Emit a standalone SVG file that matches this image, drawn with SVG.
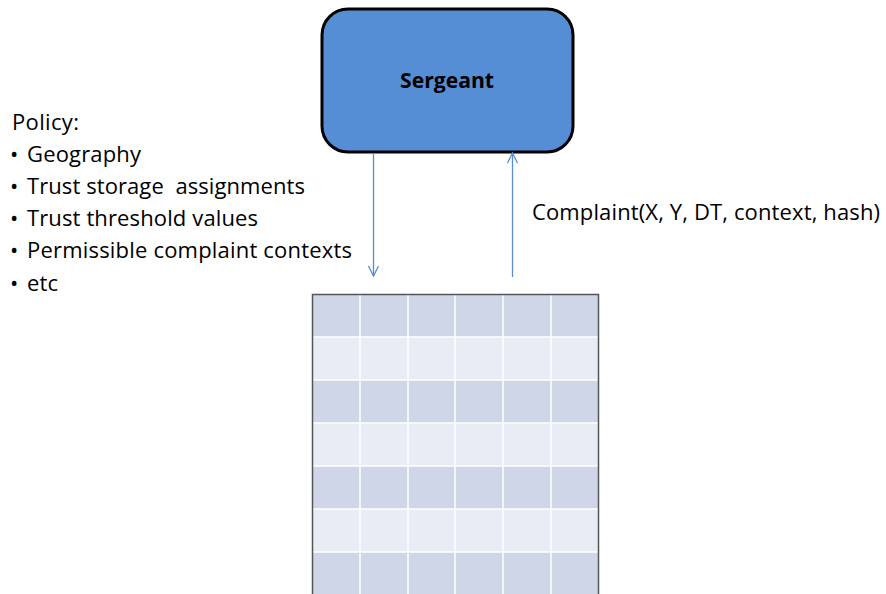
<svg xmlns="http://www.w3.org/2000/svg" width="886" height="594" viewBox="0 0 886 594">
  <style>
    .txt { font-family: "Open Sans", Lato, "Liberation Sans", sans-serif; font-size: 22px; fill: #000; }
    .bullet { font-family: "Open Sans", Lato, "Liberation Sans", sans-serif; font-size: 22px; fill: #000; }
    .title { font-family: "Open Sans", Lato, "Liberation Sans", sans-serif; font-size: 22px; font-weight: bold; fill: #000; }
    .conn { stroke: #5B8DD0; stroke-width: 1.3; fill: none; }
    .dark { fill: #CFD6E7; }
    .light { fill: #E8ECF4; }
    .gridline { stroke: #FFFFFF; stroke-width: 1.5; }
  </style>
  <defs>
    <marker id="arrow" viewBox="0 0 12 12" refX="11" refY="6" markerWidth="12" markerHeight="12" markerUnits="userSpaceOnUse" orient="auto">
      <path d="M1,1 L11,6 L1,11" fill="none" stroke="#5B8DD0" stroke-width="1.3"/>
    </marker>
  </defs>
  <rect width="886" height="594" fill="#FFFFFF"/>

  <g id="sergeant">
    <rect x="322" y="9" width="251" height="143" rx="26" ry="26" fill="#558ED5" stroke="#000" stroke-width="3"/>
    <text class="title" x="400" y="88" textLength="94" lengthAdjust="spacingAndGlyphs">Sergeant</text>
  </g>

  <g id="policy">
    <text class="txt" x="12" y="130" textLength="67">Policy:</text>
    <text class="bullet" x="10" y="162">•</text>
    <text class="txt" x="27" y="162" textLength="114">Geography</text>
    <text class="bullet" x="10" y="194">•</text>
    <text class="txt" x="27" y="194" textLength="278" xml:space="preserve">Trust storage  assignments</text>
    <text class="bullet" x="10" y="226">•</text>
    <text class="txt" x="27" y="226" textLength="231">Trust threshold values</text>
    <text class="bullet" x="10" y="258">•</text>
    <text class="txt" x="27" y="258" textLength="325">Permissible complaint contexts</text>
    <text class="bullet" x="10" y="291">•</text>
    <text class="txt" x="27" y="291" textLength="31">etc</text>
  </g>

  <g id="complaint-label">
    <text class="txt" x="532" y="220" textLength="348">Complaint(X, Y, DT, context, hash)</text>
  </g>

  <g id="store">
    <rect class="dark" x="312" y="294" width="287" height="43"/>
    <rect class="light" x="312" y="337" width="287" height="43"/>
    <rect class="dark" x="312" y="380" width="287" height="43"/>
    <rect class="light" x="312" y="423" width="287" height="43"/>
    <rect class="dark" x="312" y="466" width="287" height="43"/>
    <rect class="light" x="312" y="509" width="287" height="43"/>
    <rect class="dark" x="312" y="552" width="287" height="42"/>
    <g class="gridline">
      <line x1="360" y1="294" x2="360" y2="594"/>
      <line x1="408" y1="294" x2="408" y2="594"/>
      <line x1="455" y1="294" x2="455" y2="594"/>
      <line x1="503" y1="294" x2="503" y2="594"/>
      <line x1="551" y1="294" x2="551" y2="594"/>
      <line x1="312" y1="337" x2="599" y2="337"/>
      <line x1="312" y1="380" x2="599" y2="380"/>
      <line x1="312" y1="423" x2="599" y2="423"/>
      <line x1="312" y1="466" x2="599" y2="466"/>
      <line x1="312" y1="509" x2="599" y2="509"/>
      <line x1="312" y1="552" x2="599" y2="552"/>
    </g>
    <path d="M312.5,594 L312.5,294.5 L598.5,294.5 L598.5,594" fill="none" stroke="#555" stroke-width="1.5"/>
  </g>

  <g id="connectors">
    <line class="conn" x1="373.5" y1="153" x2="373.5" y2="276" marker-end="url(#arrow)"/>
    <line class="conn" x1="512.5" y1="277" x2="512.5" y2="153" marker-end="url(#arrow)"/>
  </g>
</svg>
